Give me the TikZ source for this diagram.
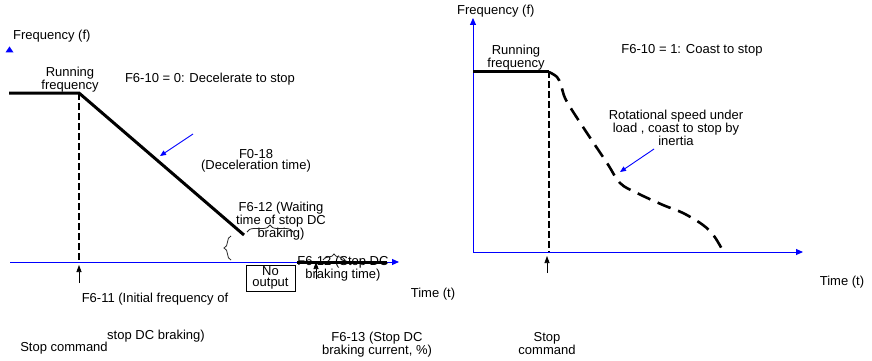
\documentclass[tikz,border=0pt]{standalone}
\usepackage{fontspec}
\setmainfont{Liberation Sans}
\usetikzlibrary{arrows.meta, decorations.pathreplacing}

\begin{document}
\begin{tikzpicture}[x=1pt, y=-1pt, >=Triangle,
    every node/.style={font=\fontsize{13}{11.5}\selectfont, inner sep=0pt, align=center},
    axis/.style={blue, line width=1pt, -{Triangle[length=7pt, width=6pt]}},
    speed/.style={line width=3pt},
    stopline/.style={line width=2pt, dash pattern=on 6.5pt off 3.5pt},
    coastline/.style={line width=2.6pt, dash pattern=on 14pt off 8pt},
    hint/.style={blue, line width=0.9pt, -{Triangle[length=6pt, width=5pt]}},
    stoparrow/.style={line width=0.7pt, -{Triangle[length=7pt, width=5pt]}},
    bracket/.style={decorate, decoration={brace, amplitude=#1}, line width=0.8pt, black!85}]
    \useasboundingbox (0,0) rectangle (872,361);

    % --- Gauche : F6-10 = 0, arret par deceleration ---
    \coordinate (oL) at (10,262);
    \coordinate (tL) at (399,262);
    \draw[axis] (oL) -- (tL);
    \fill[blue] (5.5,52.5) -- (9.5,46.5) -- (13.5,52.5) -- cycle;

    \coordinate (runstartL) at (9,93);
    \coordinate (stopL) at (79,93);
    \coordinate (decelend) at (244,235);
    \coordinate (stopbaseL) at (79,262);
    \draw[speed] (runstartL) -- (stopL) -- (decelend);
    \draw[stopline] (stopL) -- (stopbaseL);

    \node[anchor=base west] (freqL) at (13,40) {Frequency (f)};
    \node[anchor=north] (runL) at (70,67) {Running\\frequency};
    \node[anchor=base] (modeL) at (210,82) {F6-10 = 0: Decelerate to stop};
    \node[anchor=north] (decel) at (256,149) {F0-18\\(Deceleration time)};
    \node[anchor=north] (wait) at (281,202) {F6-12 (Waiting\\time of stop DC\\braking)};

    % fleche bleue vers la rampe
    \coordinate (hintLa) at (193,134);
    \coordinate (hintLb) at (160,156);
    \draw[hint] (hintLa) -- (hintLb);

    % accolades du temps d'attente
    \draw[bracket=7pt] (231,260) -- (231,236);
    \draw[bracket=7pt] (247,232) -- (293,232);

    % pas de sortie, puis freinage DC
    \node[draw, line width=0.8pt, minimum width=49pt, minimum height=26pt] (nooutput) at (270.5,278) {No\\output};
    \node[anchor=north] (stopdc) at (343,256) {F6-12 (Stop DC\\braking time)};
    \coordinate (dcstart) at (297,262);
    \coordinate (dcend) at (387,262);
    \draw[line width=3pt] (dcstart) -- (dcend);
    \draw[bracket=6pt] (323,260) -- (345,260);
    \coordinate (dcarrowa) at (316,279);
    \coordinate (dcarrowb) at (316,262);
    \draw[stoparrow] (dcarrowa) -- (dcarrowb);

    % commande d'arret
    \coordinate (stoptailL) at (79,283);
    \coordinate (stoptipL) at (79,265);
    \draw[stoparrow] (stoptailL) -- (stoptipL);

    \node[anchor=base] (timeL) at (433,297) {Time (t)};
    \node[anchor=base] (initfreq) at (155,302) {F6-11 (Initial frequency of};
    \node[anchor=base] (initfreqb) at (156,339) {stop DC braking)};
    \node[anchor=base] (stopcmdL) at (64,351) {Stop command};
    \node[anchor=north] (dccurrent) at (377,332) {F6-13 (Stop DC\\braking current, \%)};

    % --- Droite : F6-10 = 1, arret en roue libre ---
    \coordinate (oR) at (473,252);
    \draw[axis] (oR) -- (473,18);
    \draw[axis] (oR) -- (803,252);

    \coordinate (runstartR) at (473,71);
    \coordinate (stopR) at (549,71);
    \coordinate (stopbaseR) at (549,252);
    \draw[speed] (runstartR) -- (stopR);
    \draw[stopline] (stopR) -- (stopbaseR);
    \draw[coastline] plot[smooth, tension=0.6] coordinates {
        (549,72) (557,77) (561,85) (566,100) (583,127) (607,163)
        (620,183) (637,193) (663,205) (683,213) (703,225) (714,236) (723,251)};

    \node[anchor=base west] (freqR) at (457,15) {Frequency (f)};
    \node[anchor=north] (runR) at (516,45) {Running\\frequency};
    \node[anchor=base] (modeR) at (692,54) {F6-10 = 1: Coast to stop};
    \node[anchor=north] (coast) at (676,110) {Rotational speed under\\load , coast to stop by\\inertia};

    \coordinate (hintRa) at (654,149);
    \coordinate (hintRb) at (620,172);
    \draw[hint] (hintRa) -- (hintRb);

    \coordinate (stoptailR) at (547,273);
    \coordinate (stoptipR) at (547,256);
    \draw[stoparrow] (stoptailR) -- (stoptipR);

    \node[anchor=north] (stopcmdR) at (547,332) {Stop\\command};
    \node[anchor=base] (timeR) at (842,285) {Time (t)};
\end{tikzpicture}
\end{document}
